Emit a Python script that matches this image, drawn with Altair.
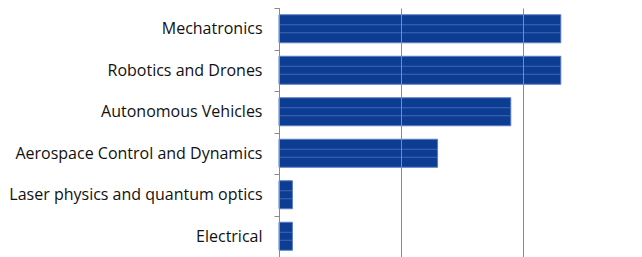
import altair as alt
import pandas as pd

categories = [
    "Mechatronics",
    "Robotics and Drones",
    "Autonomous Vehicles",
    "Aerospace Control and Dynamics",
    "Laser physics and quantum optics",
    "Electrical",
]
values = [23.1, 23.1, 19.0, 13.0, 1.1, 1.1]
grid_values = [0, 10, 20]

df = pd.DataFrame({"cat": categories, "value": values})

FONT = "Open Sans"
BAR = "#0d3c93"
EDGE = "#5a7cc0"
GRAY = "#8a8a8a"

y_enc = alt.Y(
    "cat:N",
    sort=categories,
    title=None,
    scale=alt.Scale(paddingInner=0, paddingOuter=0),
    axis=alt.Axis(
        tickBand="extent",
        tickSize=5,
        tickColor=GRAY,
        domainColor=GRAY,
        labelPadding=12,
        labelFont=FONT,
        labelFontSize=16,
        labelColor="#111111",
        labelLimit=300,
        grid=False,
    ),
)
x_enc = alt.X(
    "value:Q",
    title=None,
    scale=alt.Scale(domain=[0, 29.1], nice=False, zero=True),
    axis=alt.Axis(
        values=grid_values,
        labels=False,
        ticks=False,
        domain=False,
        grid=True,
        gridColor=GRAY,
        gridWidth=1,
        gridOpacity=1,
        zindex=1,
    ),
)

bars = alt.Chart(df).mark_bar(size=28, color=BAR, stroke=EDGE, strokeWidth=1).encode(
    x=x_enc, y=y_enc
)
base = alt.Chart(df).transform_calculate(zero="0")
line_a = base.mark_rule(color=EDGE, strokeWidth=1, opacity=0.7, yOffset=-4).encode(
    x=alt.X("zero:Q"), x2=alt.X2("value"), y=alt.Y("cat:N", sort=categories)
)
line_b = base.mark_rule(color=EDGE, strokeWidth=1, opacity=0.7, yOffset=4).encode(
    x=alt.X("zero:Q"), x2=alt.X2("value"), y=alt.Y("cat:N", sort=categories)
)

chart = (
    alt.layer(bars, line_a, line_b)
    .properties(
        width=355,
        height=249,
        background="white",
        autosize=alt.AutoSizeParams(type="none"),
        padding={"left": 271, "top": 0, "right": 0, "bottom": 0},
    )
    .configure_view(strokeWidth=0, stroke="transparent")
)

chart.save("out.html", embed_options={"renderer": "svg", "actions": False})
